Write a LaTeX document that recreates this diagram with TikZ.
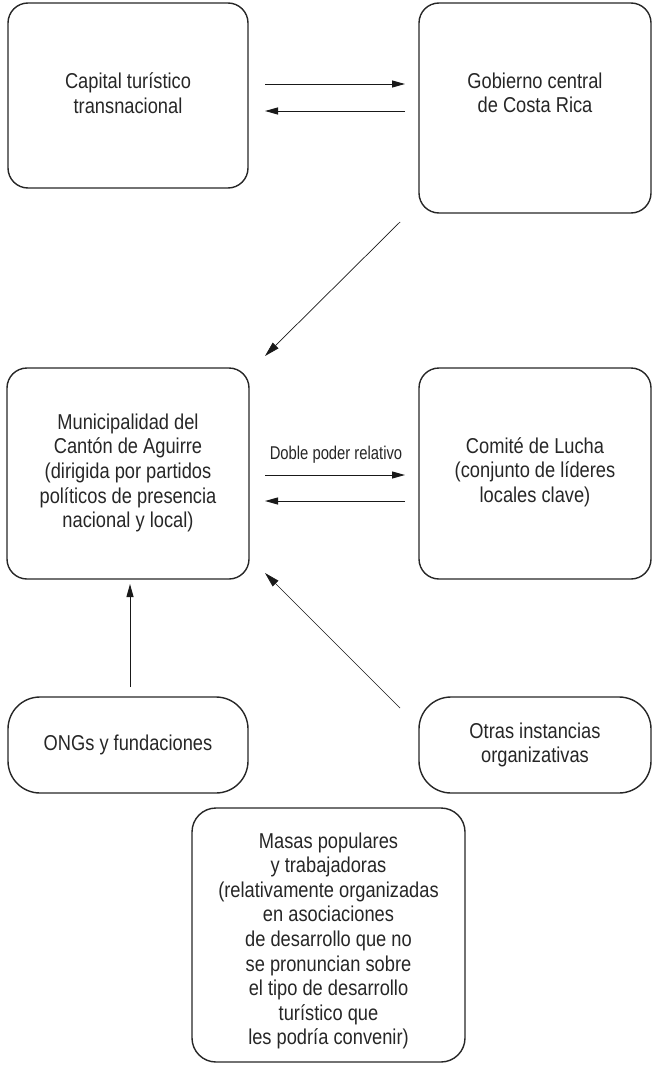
\documentclass[tikz,border=0pt]{standalone}
\usepackage{fontspec}
\setmainfont[FakeStretch=0.85]{Liberation Sans}
\newfontfamily\narrowlab[FakeStretch=0.8]{Liberation Sans}
\usetikzlibrary{arrows.meta}
\begin{document}
\begin{tikzpicture}[x=1pt,y=-1pt,
  box/.style={draw=black!85, line width=1.4pt, rounded corners=20pt, inner sep=0pt},
  txt/.style={align=center, font=\fontsize{21.5}{24.6}\selectfont, text=black!85, inner sep=0pt},
  small/.style={align=center, font=\narrowlab\fontsize{18.5}{21}\selectfont, text=black!85, inner sep=0pt},
  arr/.style={line width=1pt, draw=black!90, -{Triangle[length=13pt,width=7pt]}},
  thin/.style={line width=0.7pt, draw=black!90, -{Triangle[length=15pt,width=8pt]}},
]
\useasboundingbox (0,0) rectangle (654,1065);

% boxes
\node[box, minimum width=240pt, minimum height=185pt] (cap) at (128,95.5) {};
\node[box, minimum width=232pt, minimum height=210pt] (gob) at (535,108) {};
\node[box, minimum width=242pt, minimum height=211pt] (mun) at (128,473.5) {};
\node[box, minimum width=232pt, minimum height=211pt] (com) at (535,473.5) {};
\node[box, rounded corners=32pt, minimum width=240pt, minimum height=96pt] (ong) at (128,745) {};
\node[box, rounded corners=32pt, minimum width=232pt, minimum height=96pt] (otr) at (535,745) {};
\node[box, rounded corners=24pt, minimum width=273pt, minimum height=254pt] (mas) at (328.5,935) {};

% texts
\node[txt] (tcap) at (128,93) {Capital turístico\\ transnacional};
\node[txt] (tgob) at (535,93) {Gobierno central\\ de Costa Rica};
\node[txt] (tmun) at (128,473) {Municipalidad del\\ Cantón de Aguirre\\ (dirigida por partidos\\ políticos de presencia\\ nacional y local)};
\node[txt] (tcom) at (535,472) {Comité de Lucha\\ (conjunto de líderes\\ locales clave)};
\node[txt] (tong) at (128,745) {ONGs y fundaciones};
\node[txt] (totr) at (535,745) {Otras instancias\\ organizativas};
\node[txt] (tmas) at (328.5,941) {Masas populares\\ y trabajadoras\\ (relativamente organizadas\\ en asociaciones\\ de desarrollo que no\\ se pronuncian sobre\\ el tipo de desarrollo\\ turístico que\\ les podría convenir)};
\node[small] (dob) at (336,455) {Doble poder relativo};

% connector end points
\coordinate (c1a) at (265,84);  \coordinate (c1b) at (405,84);
\coordinate (c2a) at (405,111); \coordinate (c2b) at (265,111);
\coordinate (c3a) at (400,222); \coordinate (c3b) at (265,356);
\coordinate (c4a) at (265,475); \coordinate (c4b) at (405,475);
\coordinate (c5a) at (405,501); \coordinate (c5b) at (265,501);
\coordinate (c6a) at (130,687); \coordinate (c6b) at (130,584);
\coordinate (c7a) at (400,708); \coordinate (c7b) at (265,573);

\draw[arr] (c1a) -- (c1b);
\draw[arr] (c2a) -- (c2b);
\draw[thin] (c3a) -- (c3b);
\draw[arr] (c4a) -- (c4b);
\draw[arr] (c5a) -- (c5b);
\draw[arr] (c6a) -- (c6b);
\draw[thin] (c7a) -- (c7b);
\end{tikzpicture}
\end{document}
